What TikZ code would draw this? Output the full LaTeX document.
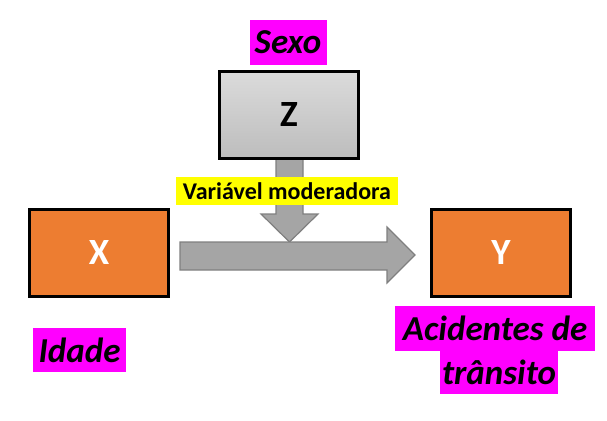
\documentclass[tikz,border=0pt]{standalone}
\usepackage{fontspec}
\setmainfont{Carlito}
\usetikzlibrary{positioning}
\definecolor{boxorange}{HTML}{ED7D31}
\definecolor{arrowgray}{HTML}{A5A5A5}
\definecolor{arrowline}{HTML}{7F7F7F}
\definecolor{hlmagenta}{HTML}{FF00FF}
\definecolor{hlyellow}{HTML}{FFFF00}
\tikzset{
    varbox/.style={draw=black, line width=3pt, inner sep=0pt,
        minimum width=139pt, minimum height=87pt,
        font=\fontsize{37}{40}\selectfont\bfseries},
    hlmag/.style={fill=hlmagenta, inner sep=0pt,
        font=\fontsize{35}{42}\selectfont\bfseries\itshape},
    blockarrow/.style={fill=arrowgray, draw=arrowline, line width=1.2pt}
}
\begin{document}
\begin{tikzpicture}[x=1pt, y=-1pt]
        \useasboundingbox (0,0) rectangle (607,420);
        %caixas das variaveis
        \node[varbox, fill=boxorange, text=white] (X) at (99,253) {X};
        \node[varbox, fill=boxorange, text=white] (Y) at (501,253) {Y};

        %setas
        \coordinate (Dtop) at (289.5,158);
        \coordinate (Dtip) at (289.5,242);
        \coordinate (Hleft) at (180,256);
        \coordinate (Htip) at (415,255);

        \draw[blockarrow]
        (276,158) -- (303,158) -- (303,214) -- (318,214) -- (Dtip)
        -- (261,214) -- (276,214) -- cycle;

        \draw[blockarrow]
        (180,242) -- (387,242) -- (387,227) -- (Htip) -- (387,283)
        -- (387,270) -- (180,270) -- cycle;

        \node[varbox, top color=black!14, bottom color=black!26,
            text=black] (Z) at (289,114.5) {Z};

        %rotulos
        \node[fill=hlyellow, inner sep=0pt, minimum width=222pt,
            minimum height=28pt, font=\fontsize{24}{28}\selectfont\bfseries]
            (mod) at (287,191) {Variável moderadora};

        \foreach \n/\p/\w/\h/\t in
        { sexo/{288,42.5}/77/45/Sexo,
            idade/{79.5,350}/93/44/Idade,
            acid/{495,328.5}/200/45/Acidentes de,
            trans/{499,372.5}/118/43/trânsito
        }
        {
            \node[hlmag, minimum width=\w pt, minimum height=\h pt]
                (\n) at (\p) {\t};
        };
\end{tikzpicture}
\end{document}
